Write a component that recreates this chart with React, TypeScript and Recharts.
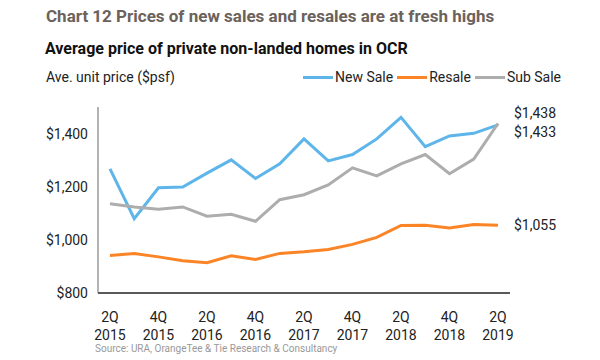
import { LineChart, Line, XAxis, YAxis } from 'recharts';

const quarters = [
  '2Q 2015', '3Q 2015', '4Q 2015', '1Q 2016', '2Q 2016', '3Q 2016', '4Q 2016', '1Q 2017',
  '2Q 2017', '3Q 2017', '4Q 2017', '1Q 2018', '2Q 2018', '3Q 2018', '4Q 2018', '1Q 2019', '2Q 2019',
];
const newSale = [1267, 1080, 1196, 1199, 1251, 1301, 1231, 1286, 1380, 1297, 1321, 1380, 1461, 1351, 1391, 1401, 1433];
const resale = [941, 949, 936, 921, 914, 940, 926, 949, 955, 964, 983, 1009, 1054, 1055, 1045, 1058, 1055];
const subSale = [1136, 1124, 1115, 1124, 1089, 1096, 1070, 1151, 1170, 1207, 1271, 1241, 1286, 1321, 1249, 1304, 1438];
const yTicks = [800, 1000, 1200, 1400];

const data = quarters.map((q, i) => ({ q, newSale: newSale[i], resale: resale[i], subSale: subSale[i] }));

const FONT = 'Roboto, sans-serif';
const fmt = (v: number) => `$${v.toLocaleString('en-US')}`;

const XTick = ({ x, y, payload }: any) => {
  const [qq, yr] = String(payload.value).split(' ');
  return (
    <text x={x} y={y} textAnchor="middle" fill="#222" fontSize={14} fontFamily={FONT}>
      <tspan x={x} dy={16} dominantBaseline="central">{qq}</tspan>
      <tspan x={x} dy={18} dominantBaseline="central">{yr}</tspan>
    </text>
  );
};

const endLabel = (dy: number) => (props: any) => {
  const { x, y, index, value } = props;
  if (index !== quarters.length - 1) return null;
  return (
    <text x={x + 16} y={y + dy} dominantBaseline="central" fill="#222" fontSize={14} fontFamily={FONT}>
      {fmt(value)}
    </text>
  );
};

const legendItems = [
  { name: 'New Sale', color: '#5db5ea' },
  { name: 'Resale', color: '#fb8526' },
  { name: 'Sub Sale', color: '#adadad' },
];

export default function App() {
  return (
    <div style={{ position: 'absolute', left: 0, top: 0, width: 600, height: 360, background: '#fff', fontFamily: FONT }}>
      <div style={{ position: 'absolute', left: 46, top: 6, fontSize: 17, fontWeight: 700, color: '#6b625c', whiteSpace: 'nowrap' }}>
        Chart 12 Prices of new sales and resales are at fresh highs
      </div>
      <div style={{ position: 'absolute', left: 45, top: 39, fontSize: 16, fontWeight: 700, color: '#111', whiteSpace: 'nowrap' }}>
        Average price of private non-landed homes in OCR
      </div>
      <div style={{ position: 'absolute', left: 46, top: 69, fontSize: 14, color: '#222', whiteSpace: 'nowrap' }}>
        Ave. unit price ($psf)
      </div>
      <div style={{ position: 'absolute', left: 303, top: 69, display: 'flex', alignItems: 'center', fontSize: 14, color: '#222', whiteSpace: 'nowrap' }}>
        {legendItems.map((it) => (
          <div key={it.name} style={{ display: 'flex', alignItems: 'center', marginRight: 4 }}>
            <span style={{ display: 'inline-block', width: 30, height: 3, background: it.color, marginRight: 2 }} />
            {it.name}
          </div>
        ))}
      </div>
      <div style={{ position: 'absolute', left: 0, top: 0 }}>
        <LineChart width={600} height={360} data={data} margin={{ top: 107, right: 90, left: 0, bottom: 0 }}>
          <XAxis
            dataKey="q"
            height={67}
            interval={1}
            padding={{ left: 12, right: 12 }}
            tickLine={false}
            axisLine={{ stroke: '#222', strokeWidth: 1.5 }}
            tick={<XTick />}
          />
          <YAxis
            width={98}
            domain={[800, 1500]}
            ticks={yTicks}
            tickLine={false}
            axisLine={{ stroke: '#666' }}
            tickMargin={4}
            tickFormatter={fmt}
            tick={{ fill: '#222', fontSize: 14, fontFamily: FONT }}
          />
          <Line dataKey="resale" stroke="#fb8526" strokeWidth={3} dot={false} isAnimationActive={false} label={endLabel(0)} />
          <Line dataKey="newSale" stroke="#5db5ea" strokeWidth={3} dot={false} isAnimationActive={false} label={endLabel(7)} />
          <Line dataKey="subSale" stroke="#adadad" strokeWidth={3} dot={false} isAnimationActive={false} label={endLabel(-10)} />
        </LineChart>
      </div>
      <div style={{ position: 'absolute', left: 95, top: 343, fontSize: 10, color: '#999', whiteSpace: 'nowrap' }}>
        Source: URA, OrangeTee &amp; Tie Research &amp; Consultancy
      </div>
    </div>
  );
}
